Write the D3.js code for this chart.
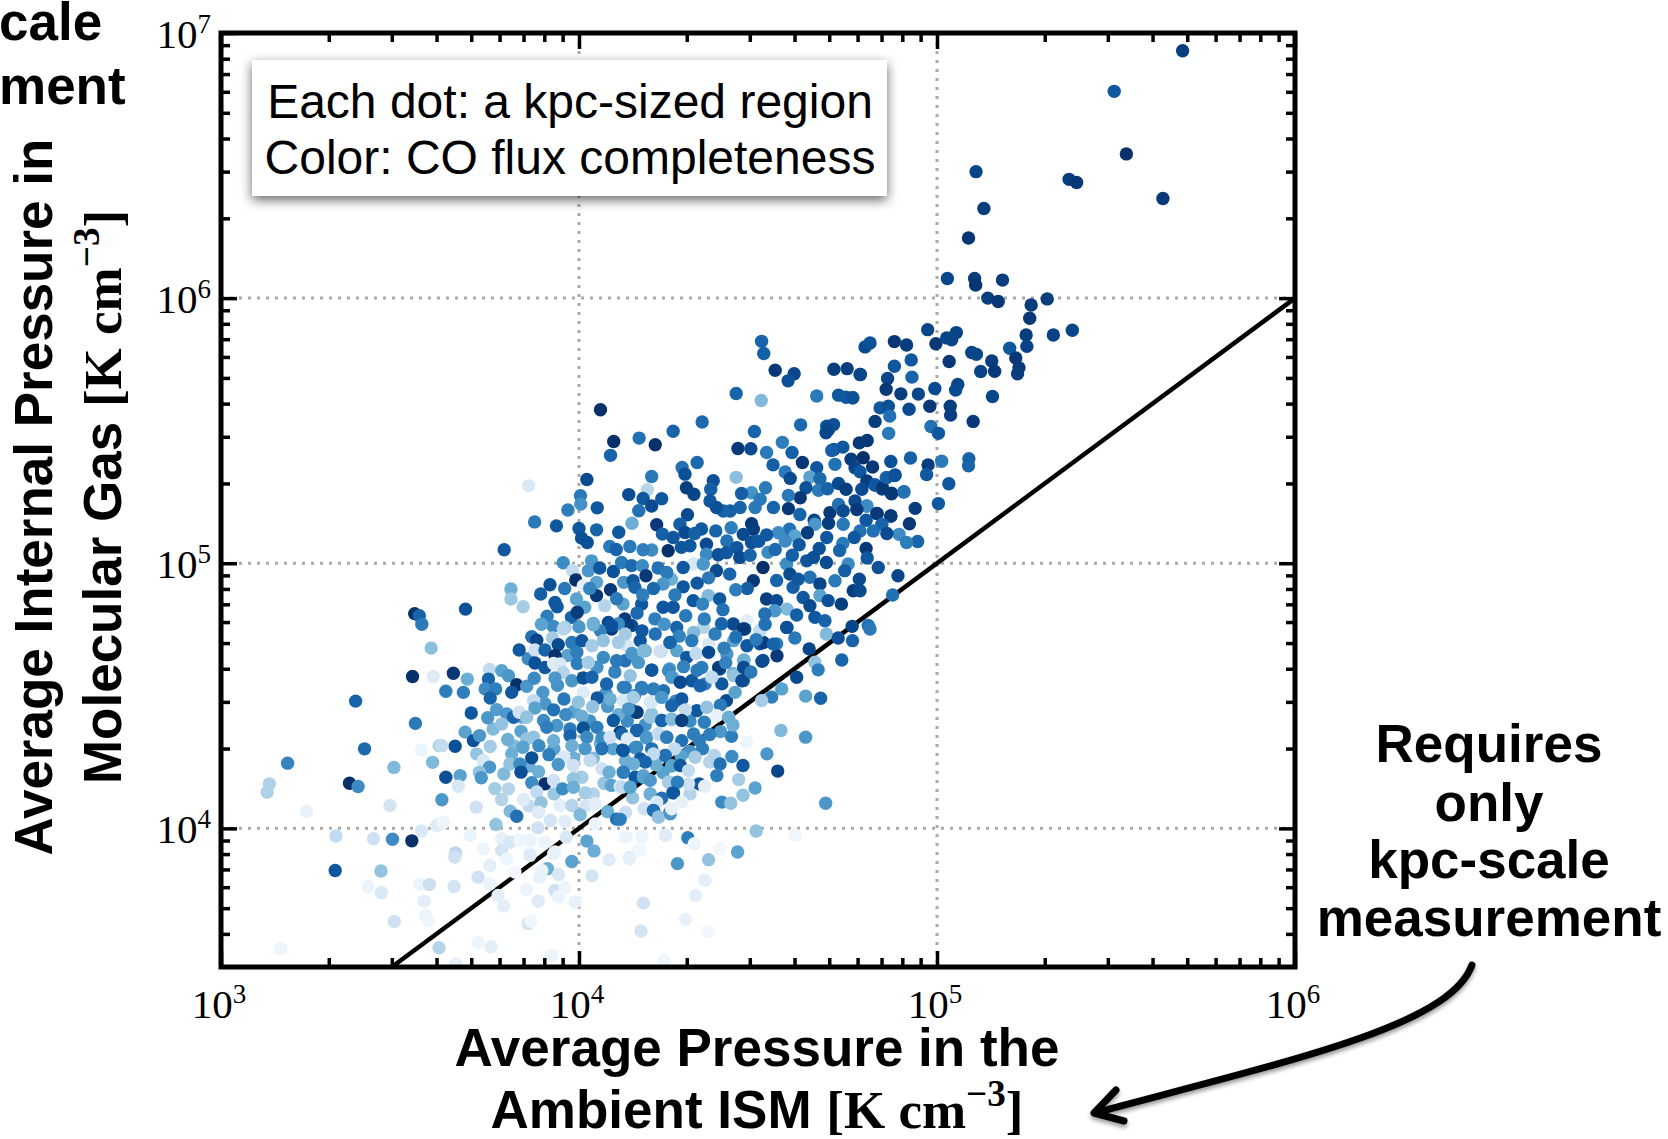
<!DOCTYPE html>
<html>
<head>
<meta charset="utf-8">
<script src="https://cdn.jsdelivr.net/npm/d3@7"></script>
<style>
    body { margin: 0; background: #fff; }
    svg { display: block; }
    text { fill: #000; }
    .tick-label { font-family: "Liberation Serif", serif; font-size: 41px; }
    .title { font-family: "Liberation Sans", sans-serif; font-weight: bold; font-size: 53px; }
    .unit { font-family: "Liberation Serif", serif; font-weight: bold; }
    .note { font-family: "Liberation Sans", sans-serif; font-size: 48px; }
</style>
</head>
<body>
<svg id="chart" width="1668" height="1139"></svg>
<script>
// Every dot is [log10 ambient pressure, log10 internal pressure, CO flux completeness]
const upperTail = [
    [5.686,6.933,.95],[5.495,6.780,.85],[5.529,6.544,1],[5.369,6.448,.95],[5.390,6.436,.97],[5.631,6.376,.97],
    [5.109,6.477,.92],[5.131,6.338,.95],[5.088,6.227,.98],[5.029,6.074,.92],[5.105,6.074,.95],[5.108,6.049,.98],
    [5.183,6.068,.95],[5.142,6.000,.95],[5.171,5.987,.98],[5.308,5.997,.95],[5.263,5.974,.95],[5.259,5.924,.97],
    [5.249,5.861,.95],[5.251,5.818,.93],[5.325,5.861,.93],[5.378,5.879,.92],[5.203,5.811,.85],[5.220,5.774,.97],
    [5.229,5.737,.97],[5.225,5.715,.95],[5.153,5.763,.95],[5.161,5.724,.97],[5.122,5.723,.92],[5.097,5.795,.92],
    [5.110,5.788,.92],[4.974,5.881,.92],[4.997,5.828,.97],[5.027,5.850,.92],[5.041,5.843,.92],[5.054,5.870,.92],
    [5.034,5.761,.97],[5.058,5.674,.92],[5.052,5.653,.9],[4.994,5.659,.9],[5.155,5.629,.92],[5.101,5.535,.97],
    [5.037,5.592,.95],[5.038,5.559,.95],[4.980,5.592,.97],[4.983,5.516,.75],[5.004,5.490,.85],[4.928,5.767,.85],
    [4.930,5.702,.8],[4.881,5.836,.98],[4.915,5.823,.95],[4.799,5.816,.9],[4.813,5.831,.88],[4.881,5.743,.85],
    [4.785,5.712,.85],[4.862,5.697,.92],[4.858,5.656,.97],[4.899,5.639,.95],[4.948,5.638,.92],[4.922,5.581,.9],
    [4.841,5.586,.85],[4.864,5.592,.88],[4.868,5.555,.75],[4.865,5.490,.72],[4.827,5.535,.95],[4.764,5.624,.85],
    [5.013,5.385,.72],[4.926,5.397,.82],[5.089,5.394,.8],[5.088,5.368,.8],[4.975,5.371,.95],[4.971,5.335,.85],
    [5.033,5.300,.85],[5.004,5.225,.85],[4.939,5.207,.95],[4.871,5.384,.88],[4.882,5.331,.9],[4.858,5.323,.75],
    [4.907,5.269,.75],[4.873,5.264,.95],[4.847,5.280,.9],[4.827,5.295,.85],[4.871,5.178,.95],[4.833,5.187,.97],
    [4.804,5.216,.7]
];

const upperCloud = [
    [4.510,5.837,.8],[4.516,5.791,.82],[4.548,5.728,.97],[4.601,5.715,.92],[4.584,5.688,.88],[4.712,5.732,.95],
    [4.749,5.734,.95],[4.786,5.712,.92],[4.439,5.640,.8],[4.509,5.614,.45],[4.664,5.631,.72],[4.725,5.634,.85],
    [4.746,5.626,.85],[4.765,5.624,.88],[4.619,5.522,.78],[4.490,5.497,.8],[4.568,5.456,.7],[4.595,5.418,.82],
    [4.524,5.418,.72],[4.444,5.433,.97],[4.480,5.432,.9],[4.542,5.371,.82],[4.624,5.380,.98],[4.439,5.324,.42],
    [4.576,5.344,.72],[4.590,5.320,.9],[4.692,5.517,.88],[4.711,5.523,.88],[4.697,5.504,.9],[4.690,5.492,.92],
    [4.712,5.429,.85],[4.737,5.438,.85],[4.706,5.425,.82],[4.715,5.373,.75],[4.664,5.360,.85],[4.645,5.325,.55],
    [4.673,5.319,.78],[4.669,5.275,.72],[4.694,5.281,.8],[4.634,5.285,.88],[4.725,5.301,.9],[4.746,5.279,.95],
    [4.618,5.247,.97],[4.585,5.256,.72],[4.585,5.206,.97],[4.521,5.285,.72],[4.482,5.266,.62],[4.454,5.263,.82],
    [4.506,5.241,.72],[4.492,5.210,.72],[4.422,5.197,.82],[4.403,5.197,.8],[4.450,5.210,.8],[4.543,5.210,.8],
    [4.617,5.184,.8],[4.482,5.149,.97],[4.487,5.128,.95],[4.425,5.134,.7],[4.701,5.191,.97],[4.657,5.162,.92],
    [4.659,5.147,.6],[4.697,5.151,.95],[4.738,5.147,.72],[4.725,5.222,.75],[4.771,5.235,.9],[4.804,5.216,.65],
    [4.776,5.203,.97],[4.738,5.197,.9],[4.832,5.188,.97],[4.871,5.178,.97],[4.923,5.149,.97],[4.846,5.147,.8],
    [4.802,5.162,.85],[4.894,5.109,.65],[4.946,5.082,.8],[4.915,5.078,.7],[4.860,5.112,.9],[4.822,5.122,.75],
    [4.785,5.122,.75],[4.769,5.097,.85],[4.737,5.075,.72],[4.802,5.056,.97],[4.692,5.097,.85],[4.638,5.115,.95],
    [4.588,5.128,.75],[4.603,5.103,.55],[4.557,5.115,.65],[4.576,5.084,.65],[4.524,5.107,.85],[4.459,5.109,.9],
    [4.482,5.078,.88],[4.413,5.084,.75],[4.441,5.059,.85],[4.671,5.056,.88],[4.783,5.454,.97],[4.805,5.463,.97],
    [4.760,5.392,.95],[4.794,5.398,1],[4.771,5.360,.92],[4.820,5.363,.97],[4.785,5.345,.85],[4.804,5.310,.95],
    [4.827,5.295,.85],[4.790,5.279,.9],[4.848,5.285,.97],[4.873,5.262,.97],[4.908,5.270,.75],[4.860,5.323,.82],
    [4.883,5.333,.88],
    [4.060,5.579,1],[4.168,5.472,.75],[4.097,5.459,1],[4.213,5.447,1],[4.088,5.407,.8],[4.263,5.498,.8],
    [4.344,5.533,.78],[4.022,5.316,.9],[4.203,5.327,.72],[4.191,5.277,.3],[4.139,5.259,.9],[4.179,5.244,.85],
    [4.203,5.216,.9],[4.231,5.243,.85],[4.167,5.198,.75],[4.051,5.209,.85],[4.004,5.255,.72],[4.005,5.223,.62],
    [3.969,5.201,.7],[3.876,5.156,.72],[3.937,5.141,.85],[3.859,5.292,.15],[4.148,5.151,.5],[4.217,5.145,.97],
    [4.000,5.131,.85],[4.049,5.126,.8],[4.111,5.117,.85],[4.007,5.095,.88],[4.023,5.078,.88],[4.086,5.063,.72],
    [3.791,5.051,.85],[4.288,5.361,.75],[4.330,5.380,.78],[4.296,5.336,.88],[4.300,5.285,.95],[4.321,5.260,.92],
    [4.375,5.311,.88],[4.368,5.279,.82],[4.366,5.235,.85],[4.384,5.210,.88],[4.303,5.183,.9],[4.282,5.147,.82],
    [4.342,5.129,.85],[4.382,5.122,.8],[4.233,5.110,.82],[4.263,5.097,.85],[4.296,5.116,.9],[4.310,5.066,.85],
    [4.356,5.072,.9],[4.249,5.047,1],[4.203,5.050,.65],[4.179,5.051,.7],[4.286,5.060,.85],[4.356,5.034,.65]
];

const midCloud = [
    [3.956,5.002,.65],[3.982,4.972,.25],[4.035,5.009,.6],[4.026,4.972,.6],[4.058,4.982,.85],[4.096,4.969,.88],
    [4.119,5.003,.72],[4.147,4.991,.78],[4.177,4.991,.65],[4.221,4.982,.75],[4.319,4.997,.15],[4.347,4.997,.6],
    [4.389,5.032,.88],[4.291,4.984,.85],[4.384,4.972,.9],[3.991,4.937,1],[4.049,4.928,.55],[4.012,4.915,.1],
    [4.049,4.878,.97],[4.088,4.900,.97],[4.125,4.928,.6],[4.151,4.934,.85],[4.187,4.953,.97],[4.156,4.909,.8],
    [4.258,4.940,.5],[4.245,4.965,.72],[4.235,4.922,.6],[4.291,4.911,.85],[3.810,4.903,.5],[3.810,4.865,.38],
    [3.844,4.836,.35],[3.893,4.884,.82],[3.919,4.919,.88],[3.933,4.852,.85],[3.939,4.836,.85],[3.911,4.800,.7],
    [3.993,4.865,.55],[4.016,4.834,.55],[3.979,4.796,.8],[3.995,4.815,.95],[4.040,4.773,.55],[3.961,4.758,.35],
    [4.072,4.840,.3],[4.123,4.846,.55],[4.082,4.777,.9],[4.091,4.752,.95],[4.128,4.790,.97],[4.147,4.765,.9],
    [4.175,4.846,.85],[4.235,4.834,.85],[4.263,4.834,.85],[4.319,4.859,.85],[4.361,4.878,.45],[4.393,4.865,.85],
    [4.514,4.984,1],[4.487,4.934,.97],[4.421,4.959,.8],[4.449,5.022,.9],[4.528,5.041,.65],[4.580,4.997,.65],
    [4.636,5.009,.85],[4.691,5.003,.9],[4.752,4.997,.65],[4.836,4.984,.88],[4.589,4.959,.9],[4.645,4.947,.75],
    [4.673,4.922,.92],[4.715,4.934,.72],[4.783,4.940,.9],[4.766,4.896,.95],[4.785,4.896,.9],[4.891,4.953,.92],
    [4.876,4.880,.75],[4.598,4.909,.82],[4.626,4.871,.85],[4.673,4.878,.55],[4.696,4.859,.88],[4.733,4.846,.95],
    [4.645,4.840,.9],[4.524,4.865,.95],[4.552,4.859,.9],[4.581,4.827,.45],[4.547,4.821,.6],[4.519,4.809,.75],
    [4.468,4.783,.1],[4.431,4.771,.9],[4.463,4.752,.85],[4.505,4.746,.2],[4.580,4.758,.8],[4.603,4.718,.72],
    [4.659,4.796,.85],[4.687,4.783,.8],[4.691,4.733,.45],[4.763,4.762,.92],[4.808,4.765,.75],[4.813,4.752,.72],
    [4.724,4.718,.88],[4.764,4.708,.8],[4.643,4.677,.92],[4.734,4.635,.8],[4.659,4.627,.4],[4.668,4.598,.7],
    [4.608,4.570,.9],[4.633,4.499,.55],[4.675,4.491,.8],[4.566,4.526,.55],[4.538,4.495,.7],[4.510,4.482,.35],
    [4.564,4.369,.45],[4.633,4.344,.6],[4.426,4.347,.7],[4.505,4.696,.85],[4.552,4.696,.72],[4.514,4.633,.85],
    [4.460,4.633,.5],[4.431,4.583,.5],[4.393,4.601,.9],[4.459,4.558,.85],[4.412,4.482,.9],
    [4.134,4.764,.95],[4.176,4.745,.85],[4.213,4.733,.75],[4.255,4.701,.85],[4.185,4.670,.5],[4.229,4.668,.3],
    [4.273,4.670,.55],[4.301,4.645,.85],[4.362,4.695,.15],[4.327,4.660,.25],[4.362,4.664,.9],[4.413,4.658,.6],
    [4.461,4.635,.5],[4.511,4.630,.9],[4.553,4.651,.97],[4.515,4.701,.95],[4.506,4.745,.25],[4.459,4.752,.97],
    [4.432,4.708,.55],[4.469,4.689,.85],[4.543,4.695,.8],[4.380,4.733,.7],[4.348,4.758,.3],[4.320,4.739,.45],
    [4.273,4.758,.8],[4.134,4.689,.15],[4.129,4.632,.75],[4.166,4.626,.6],[4.203,4.597,.85],[4.253,4.601,.6],
    [4.343,4.607,.7],[4.390,4.607,.95],[4.432,4.576,.4],[4.460,4.607,.9],[4.399,4.545,.85],[4.455,4.557,.9],
    [4.143,4.576,.4],[4.264,4.570,.3],[4.352,4.545,.7],[4.436,4.513,.55],[4.371,4.570,.25],[4.315,4.557,.85],
    [4.581,4.758,.88]
];

// Dots half hidden in the crowded part of the cloud, estimated
const crowdedCloud = [
    [4.104,5.052,.8],[4.142,5.063,.72],[4.323,5.112,.82],[4.412,5.040,.85],[4.478,5.030,.8],[4.502,5.083,.85],
    [4.548,5.052,.78],[4.596,5.030,.82],[4.615,5.070,.85],[4.655,5.022,.88],[4.728,5.048,.8],[4.805,5.020,.85],
    [4.742,4.972,.82],[4.612,4.940,.85],[4.552,4.935,.8],[4.470,4.905,.82],[4.438,4.900,.7],[4.362,4.945,.72],
    [4.330,4.925,.85],[4.208,4.905,.78],[4.178,4.880,.7],[4.105,4.866,.72],[4.030,4.905,.68],[3.960,4.905,.72],
    [4.268,4.880,.72],[4.345,4.846,.68],[4.402,4.825,.75],[4.298,4.802,.72],[4.212,4.790,.7],[4.162,4.812,.78],
    [4.350,4.790,.7],[4.398,4.772,.8],[4.520,4.770,.75],[4.608,4.805,.82],[4.495,4.712,.72],[4.438,4.722,.75],
    [4.315,4.708,.72],[4.280,4.725,.68],[4.238,4.770,.62],[4.110,4.772,.65],[4.060,4.745,.68],[4.000,4.760,.6],
    [3.928,4.762,.65],[3.895,4.770,.55],[3.858,4.640,.65],[3.968,4.652,.55],[3.995,4.622,.7],[4.050,4.608,.62],
    [4.100,4.590,.68],[4.148,4.660,.6],[4.292,4.610,.68],[4.330,4.596,.72],[4.405,4.680,.7],[4.480,4.590,.72],
    [4.410,4.625,.68],[4.155,4.500,.65],[4.075,4.510,.6],[3.940,4.540,.62],[3.905,4.470,.6],[3.985,4.440,.55],
    [4.030,4.405,.62],[4.080,4.460,.6],[4.135,4.405,.65],[4.185,4.390,.62],[4.270,4.480,.68],[4.310,4.405,.65],
    [4.350,4.400,.7],[4.395,4.465,.72],[4.395,4.365,.6],[4.310,4.290,.62],[4.345,4.300,.7],[4.285,4.275,.55],
    [3.840,4.420,.55],[3.770,4.448,.58],[3.760,4.375,.45],[3.820,4.310,.45],[3.930,4.300,.55],[4.040,4.265,.45],
    [4.095,4.300,.55],[4.130,4.255,.5],[4.070,4.170,.4],[3.860,4.235,.5],[3.790,4.205,.45],[3.765,4.150,.35],
    [3.930,4.130,.38],[4.040,4.130,.3],[4.150,4.115,.4],[4.235,4.210,.55],[4.310,4.130,.3],[3.860,4.085,.25],
    [4.020,4.085,.18],[4.130,4.060,.22],[3.920,4.030,.18],[4.060,4.320,.5],[3.985,4.265,.5],[4.215,4.240,.5]
];

const leftWing = [
    [3.541,4.810,1],[3.554,4.802,.8],[3.561,4.770,.72],[3.683,4.827,.88],[3.587,4.680,.42],[3.535,4.573,1],
    [3.593,4.573,.12],[3.376,4.480,.8],[3.543,4.396,.72],[3.401,4.300,.78],[3.609,4.312,.3],[3.560,4.296,.05],
    [3.186,4.246,.68],[3.483,4.230,.45],[3.591,4.249,.45],[3.359,4.170,1],[3.383,4.158,.65],[3.135,4.168,.32],
    [3.129,4.136,.32],[3.239,4.064,.07],[3.472,4.086,.18],[3.321,3.971,.25],[3.426,3.961,.2],[3.479,3.959,.65],
    [3.533,3.953,1],[3.560,3.990,.15],[3.602,4.011,.12],[3.619,4.020,.1],[3.319,3.841,.85],[3.447,3.839,.4],
    [3.411,3.781,.06],[3.448,3.757,.15],[3.555,3.789,.05],[3.582,3.788,.22],[3.651,3.781,.18],[3.655,3.907,.28],
    [3.653,3.892,.2]
];

const coreLeft = [
    [3.649,4.585,.97],[3.688,4.563,.5],[3.628,4.517,.7],[3.677,4.513,.7],[3.833,4.673,.85],[3.868,4.723,.75],
    [3.882,4.710,.92],[3.926,4.718,.35],[3.956,4.752,.3],[3.877,4.673,.2],[3.905,4.673,.8],[3.942,4.693,.9],
    [3.933,4.651,1],[3.877,4.624,.88],[3.905,4.607,.85],[3.929,4.622,.12],[3.947,4.620,.15],[3.956,4.588,.3],
    [3.980,4.701,.72],[4.008,4.708,.85],[3.994,4.664,.7],[4.036,4.689,.35],[4.068,4.708,.4],[4.026,4.626,.35],
    [4.068,4.645,.65],[4.105,4.632,.72],[4.110,4.701,.35],[4.091,4.764,.88],[4.040,4.768,.5],[4.129,4.733,.35],
    [4.171,4.708,.85],[4.180,4.670,.45],[4.226,4.668,.2],[4.254,4.701,.8],[4.203,4.597,.85],[4.250,4.595,.65],
    [3.750,4.599,.25],[3.784,4.595,.55],[3.803,4.576,.6],[3.747,4.563,.8],[3.826,4.542,1],[3.738,4.526,.65],
    [3.767,4.526,.7],[3.812,4.513,.85],[3.752,4.492,.8],[3.854,4.536,.6],[3.875,4.566,.65],[3.933,4.567,.6],
    [3.980,4.557,.6],[3.899,4.513,.6],[3.958,4.488,.72],[4.012,4.567,.88],[4.036,4.570,.8],[4.077,4.545,.8],
    [4.124,4.532,.7],[4.012,4.513,.12],[4.051,4.492,.85],[3.998,4.476,.4],[4.038,4.459,.4],[4.124,4.482,.2],
    [4.087,4.488,.5],[4.175,4.532,.7],[4.231,4.513,.75],[4.199,4.476,.15],[4.259,4.570,.6],[3.873,4.482,.25],
    [3.877,4.454,.55],[3.929,4.447,.75],[3.963,4.429,.65],[3.699,4.435,.85],[3.745,4.417,.6],[3.798,4.432,.6],
    [3.817,4.419,.8],[3.833,4.438,.2],[3.854,4.419,.4],[3.784,4.394,.4],[3.838,4.366,.55],[3.901,4.407,.65],
    [4.008,4.423,.5],[3.938,4.388,.6],[3.910,4.381,.7],[3.975,4.375,.72],[4.012,4.379,.88],[4.050,4.381,.7],
    [4.110,4.429,.5],[4.096,4.407,.85],[4.161,4.438,.9],[4.143,4.450,.7],[4.161,4.369,.85],[4.115,4.363,.95],
    [4.231,4.407,.8],[4.259,4.409,.3],[4.203,4.431,.4],[4.189,4.344,.55],[4.222,4.356,.2],[4.245,4.344,.7],
    [4.138,4.337,.1],[3.682,4.363,.55],[3.705,4.331,.88],[3.722,4.350,.6],[3.654,4.310,.88],[3.617,4.312,.25],
    [3.752,4.309,.35],[3.801,4.335,.5],[3.873,4.344,.4],[3.854,4.337,.4],[3.929,4.331,.5],[3.975,4.350,.8],
    [3.888,4.312,.65],[3.843,4.306,.55],[3.980,4.312,.5],[4.022,4.344,.65],[4.064,4.341,.65],[4.087,4.344,.2],
    [4.064,4.300,.75],[4.017,4.300,.6],[4.122,4.296,.88],[4.161,4.306,.7],[4.171,4.258,.85],[4.240,4.275,.65],
    [4.259,4.237,.6],[4.208,4.287,.25],[3.714,4.281,.4],[3.812,4.281,.5],[3.868,4.266,.88],[3.916,4.278,.7],
    [3.958,4.268,.15],[3.807,4.243,.4],[3.835,4.243,.65],[3.942,4.241,.6],[3.984,4.237,.2],[4.031,4.256,.25],
    [3.733,4.256,.15],[3.750,4.231,.6],[3.628,4.193,.88],[3.668,4.199,.55],[3.722,4.212,.4],[3.727,4.191,.6],
    [3.838,4.212,.88],[3.887,4.214,.5],[3.868,4.172,.65],[3.905,4.168,1],[3.929,4.181,.2],[4.008,4.193,.35],
    [3.984,4.187,.4],[3.954,4.149,.65],[4.064,4.225,.2],[4.084,4.212,.5],[4.124,4.212,.65],[4.157,4.193,.85],
    [4.180,4.199,.55],[4.091,4.162,.55],[4.115,4.158,.15],[4.199,4.130,.4],[4.254,4.174,.35],[4.264,4.134,.85],
    [3.663,4.159,.15],[3.803,4.149,.3],[3.984,4.155,.5],[4.017,4.134,.35],[3.882,4.137,.25],[3.617,4.108,.6],
    [3.713,4.080,.2],[3.784,4.109,.3],[3.845,4.109,.12],[3.894,4.097,.4],[3.947,4.086,.1],[3.980,4.086,.3],
    [4.045,4.093,.1],[4.217,4.099,.1],[4.182,4.074,.2],[3.808,4.065,.45],[3.826,4.046,.75],[3.887,4.061,.12],
    [4.003,4.051,.45],[4.080,4.063,.5],[4.105,4.035,.75],[4.208,4.068,.7],[4.222,4.043,.35],[4.254,4.061,.7],
    [3.768,4.015,.4],[3.961,4.026,.12],[3.621,4.024,.05],[3.885,4.002,.2],[3.964,3.967,.15],[4.045,4.017,.06]
];

const coreRight = [
    [4.283,4.551,.9],[4.338,4.538,.8],[4.236,4.519,.75],[4.208,4.526,.7],[4.176,4.526,.7],[4.129,4.532,.7],
    [4.287,4.488,.85],[4.259,4.463,.8],[4.124,4.482,.15],[4.152,4.494,.35],[4.201,4.476,.15],[4.231,4.494,.6],
    [4.329,4.444,.85],[4.297,4.447,.25],[4.357,4.457,.4],[4.385,4.425,.08],[4.418,4.419,.5],[4.162,4.438,.95],
    [4.138,4.450,.6],[4.199,4.419,.4],[4.231,4.407,.8],[4.259,4.413,.45],[4.287,4.407,.95],[4.162,4.369,.8],
    [4.120,4.356,.8],[4.135,4.337,.12],[4.188,4.341,.6],[4.222,4.356,.25],[4.245,4.344,.7],[4.287,4.331,.75],
    [4.320,4.356,.7],[4.365,4.354,.7],[4.336,4.331,.7],[4.430,4.390,.5],[4.267,4.300,.25],[4.157,4.304,.65],
    [4.124,4.294,.85],[4.203,4.300,.75],[4.241,4.275,.75],[4.208,4.281,.25],[4.171,4.262,.85],[4.185,4.250,.8],
    [4.152,4.243,.5],[4.259,4.235,.55],[4.283,4.237,.85],[4.306,4.218,.25],[4.324,4.268,.35],[4.378,4.275,.3],
    [4.365,4.250,.3],[4.394,4.243,.75],[4.427,4.271,.65],[4.458,4.237,.85],[4.385,4.199,.7],[4.446,4.184,.35],
    [4.492,4.152,.55],[4.525,4.281,.6],[4.555,4.216,.92],[4.469,4.325,.05],[4.336,4.168,.85],[4.351,4.159,.1],
    [4.306,4.168,.2],[4.250,4.174,.35],[4.275,4.174,.7],[4.124,4.212,.7],[4.180,4.193,.55],[4.199,4.181,.6],
    [4.199,4.130,.5],[4.262,4.134,.85],[4.231,4.114,.75],[4.120,4.155,.25],[4.143,4.155,.55],[4.217,4.099,.15],
    [4.287,4.099,.08],[4.399,4.099,.65],[4.424,4.095,.4],[4.458,4.125,.4],[4.689,4.095,.6],[4.182,4.074,.2],
    [4.208,4.068,.75],[4.222,4.043,.4],[4.255,4.055,.6],[4.259,4.074,.08],[4.115,4.034,.7],[4.495,3.990,.4],
    [4.129,3.967,.05],[4.176,3.970,.05],[4.241,3.974,.1],[4.304,3.965,.7],[4.322,3.942,.05],[4.166,3.917,.05],
    [4.394,3.923,.03],[4.443,3.911,.55],[4.141,3.889,.15],[4.362,3.882,.4],[4.275,3.867,.6],[4.604,3.974,.04]
];

const faintFloor = [
    [3.696,3.974,.06],[3.784,3.961,.08],[3.808,3.948,.15],[3.733,3.923,.05],[3.784,3.917,.18],[3.835,3.955,.04],
    [3.863,3.955,.06],[3.905,3.948,.06],[4.022,3.952,.55],[4.042,3.915,.5],[4.131,3.967,.06],[4.175,3.967,.05],
    [4.242,3.974,.12],[3.863,3.904,.05],[3.933,3.911,.04],[3.718,3.816,.2],[3.568,3.725,.1],[3.484,3.649,.2],
    [3.572,3.672,.05],[3.579,3.653,.04],[3.167,3.546,.05],[3.609,3.550,.3],[3.718,3.569,.05],[3.754,3.553,.1],
    [3.656,3.490,.08],[3.751,3.791,.06],[3.774,3.747,.1],[3.790,3.707,.1],[3.751,3.860,.1],[3.852,3.769,.06],
    [3.886,3.725,.12],[3.858,3.641,.18],[3.866,3.651,.04],[3.923,3.521,.05],[3.980,3.875,.55],[3.912,3.848,.5],
    [3.896,3.841,.06],[3.943,3.826,.15],[4.036,3.821,.18],[3.889,3.816,.08],[3.821,3.835,.03],[3.863,3.898,.12],
    [3.929,3.904,.07],[3.798,3.885,.05],[3.933,3.766,.2],[3.961,3.775,.05],[3.942,3.741,.06],[3.989,3.722,.08],
    [4.084,3.882,.12],[4.141,3.885,.08],[4.171,3.917,.04],[4.352,3.804,.1],[4.326,3.747,.1],[4.180,3.718,.2],
    [4.298,3.656,.07],[4.173,3.613,.18],[4.361,3.612,.03],[4.238,3.503,.04]
];

const regions = upperTail.concat(upperCloud, midCloud, crowdedCloud, leftWing, coreLeft, coreRight, faintFloor);

const xDomain = [1e3, 1e6];
const yDomain = [3e3, 1e7];
const xDecades = [1e3, 1e4, 1e5, 1e6];
const yDecades = [1e4, 1e5, 1e6, 1e7];
const minorMultiples = [2, 3, 4, 5, 6, 7, 8, 9];
const oneToOne = [3e3, 1e6];

const plot_left = 221;
const plot_right = 1295;
const plot_top = 33;
const plot_bottom = 967;
const dot_radius = 6.7;

const svg = d3.select("#chart");
const defs = svg.append("defs");

const xScale = d3.scaleLog().domain(xDomain).range([plot_left, plot_right]);
const yScale = d3.scaleLog().domain(yDomain).range([plot_bottom, plot_top]);

defs.append("clipPath").attr("id", "plot-clip")
    .append("rect")
    .attr("x", plot_left).attr("y", plot_top)
    .attr("width", plot_right - plot_left).attr("height", plot_bottom - plot_top);

const boxShadow = defs.append("filter").attr("id", "box-shadow")
    .attr("x", "-10%").attr("y", "-20%").attr("width", "120%").attr("height", "145%");
boxShadow.append("feDropShadow")
    .attr("dx", 0).attr("dy", 4).attr("stdDeviation", 6)
    .attr("flood-color", "#000").attr("flood-opacity", 0.6);

const arrowShadow = defs.append("filter").attr("id", "arrow-shadow")
    .attr("x", "-10%").attr("y", "-20%").attr("width", "120%").attr("height", "140%");
arrowShadow.append("feDropShadow")
    .attr("dx", 0).attr("dy", 3).attr("stdDeviation", 2)
    .attr("flood-color", "#000").attr("flood-opacity", 0.4);

// Add gridlines
const grid = svg.append("g")
    .attr("stroke", "#aaa").attr("stroke-width", 3).attr("stroke-dasharray", "3 6");
grid.selectAll("line.vertical")
    .data(xDecades.slice(1, 3))
    .enter().append("line")
    .attr("x1", d => xScale(d)).attr("x2", d => xScale(d))
    .attr("y1", plot_top).attr("y2", plot_bottom);
grid.selectAll("line.horizontal")
    .data(yDecades.slice(0, 3))
    .enter().append("line")
    .attr("x1", plot_left).attr("x2", plot_right)
    .attr("y1", d => yScale(d)).attr("y2", d => yScale(d));

// y = x line sits below the dots
svg.append("line")
    .attr("x1", xScale(oneToOne[0])).attr("y1", yScale(oneToOne[0]))
    .attr("x2", xScale(oneToOne[1])).attr("y2", yScale(oneToOne[1]))
    .attr("stroke", "#000").attr("stroke-width", 4.5);

svg.append("g").attr("clip-path", "url(#plot-clip)")
    .selectAll("circle")
    .data(regions)
    .enter().append("circle")
    .attr("cx", d => xScale(10 ** d[0]))
    .attr("cy", d => yScale(10 ** d[1]))
    .attr("r", dot_radius)
    .attr("fill", d => d3.interpolateBlues(d[2]));

// Log ticks on all four sides, pointing in
function minorTicks(scale) {
    const [lo, hi] = scale.domain();
    const ticks = [];
    for (let e = Math.floor(Math.log10(lo)); e < Math.ceil(Math.log10(hi)); e++) {
        minorMultiples.forEach(m => {
            const v = m * 10 ** e;
            if (v > lo && v < hi) ticks.push(v);
        });
    }
    return ticks;
}

function drawTicks(axis, transform, values, size) {
    const g = svg.append("g")
        .attr("transform", transform)
        .call(axis.tickValues(values).tickSize(-size).tickSizeOuter(0).tickFormat(""));
    g.select(".domain").remove();
    g.selectAll("line").attr("stroke", "#000").attr("stroke-width", 3.5);
}

[[16, xDecades, yDecades], [9, minorTicks(xScale), minorTicks(yScale)]].forEach(([size, xs, ys]) => {
    drawTicks(d3.axisBottom(xScale), `translate(0,${plot_bottom})`, xs, size);
    drawTicks(d3.axisTop(xScale), `translate(0,${plot_top})`, xs, size);
    drawTicks(d3.axisLeft(yScale), `translate(${plot_left},0)`, ys, size);
    drawTicks(d3.axisRight(yScale), `translate(${plot_right},0)`, ys, size);
});

svg.append("rect")
    .attr("x", plot_left).attr("y", plot_top)
    .attr("width", plot_right - plot_left).attr("height", plot_bottom - plot_top)
    .attr("fill", "none").attr("stroke", "#000").attr("stroke-width", 5);

// Tick labels: 10 with a raised exponent
function powerLabel(sel, v) {
    sel.attr("class", "tick-label");
    sel.append("tspan").text("10");
    sel.append("tspan")
        .attr("font-size", 27).attr("dy", -15)
        .text(Math.round(Math.log10(v)));
}

svg.selectAll("text.xtick")
    .data(xDecades)
    .enter().append("text")
    .attr("x", d => xScale(d) - 2)
    .attr("y", 1018)
    .attr("text-anchor", "middle")
    .each(function(d) { powerLabel(d3.select(this), d); });

svg.selectAll("text.ytick")
    .data(yDecades)
    .enter().append("text")
    .attr("x", 211)
    .attr("y", d => yScale(d) + 15)
    .attr("text-anchor", "end")
    .each(function(d) { powerLabel(d3.select(this), d); });

// Note box
svg.append("rect")
    .attr("x", 252).attr("y", 60)
    .attr("width", 635).attr("height", 136)
    .attr("fill", "#fff")
    .attr("filter", "url(#box-shadow)");
svg.append("text").attr("class", "note")
    .attr("x", 570).attr("y", 118).attr("text-anchor", "middle")
    .text("Each dot: a kpc-sized region");
svg.append("text").attr("class", "note")
    .attr("x", 570).attr("y", 174).attr("text-anchor", "middle")
    .text("Color: CO flux completeness");

// Axis titles
function unitLabel(sel, size) {
    sel.append("tspan").attr("class", "unit").attr("font-size", size).text("[K cm");
    sel.append("tspan").attr("class", "unit").attr("font-size", size * 0.7).attr("dy", -size * 0.42).text("\u22123");
    sel.append("tspan").attr("class", "unit").attr("font-size", size).attr("dy", size * 0.42).text("]");
}

svg.append("text").attr("class", "title")
    .attr("x", 757).attr("y", 1066).attr("text-anchor", "middle")
    .text("Average Pressure in the");
const xTitle = svg.append("text").attr("class", "title")
    .attr("x", 757).attr("y", 1128).attr("text-anchor", "middle");
xTitle.append("tspan").text("Ambient ISM ");
unitLabel(xTitle, 53);

svg.append("text").attr("class", "title")
    .attr("transform", "translate(52,497) rotate(-90)")
    .attr("text-anchor", "middle")
    .text("Average Internal Pressure in");
const yTitle = svg.append("text").attr("class", "title")
    .attr("transform", "translate(121,497) rotate(-90)")
    .attr("text-anchor", "middle");
yTitle.append("tspan").text("Molecular Gas ");
unitLabel(yTitle, 53);

// Leftovers of the neighbouring panel, cut by the page edge
svg.append("text").attr("class", "title").attr("x", -1).attr("y", 40).text("cale");
svg.append("text").attr("class", "title").attr("x", -1).attr("y", 104).text("ment");

// Annotation on the right
const noteLines = ["Requires", "only", "kpc-scale", "measurement"];
const noteBaselines = [762, 821, 878, 936];
svg.selectAll("text.side")
    .data(noteLines)
    .enter().append("text")
    .attr("class", "title")
    .attr("x", 1489)
    .attr("y", (d, i) => noteBaselines[i])
    .attr("text-anchor", "middle")
    .text(d => d);

const arrow = svg.append("g").attr("filter", "url(#arrow-shadow)")
    .attr("fill", "none").attr("stroke", "#000").attr("stroke-linecap", "round");
const shaft = d3.path();
shaft.moveTo(1472, 965);
shaft.bezierCurveTo(1450, 1025, 1300, 1058, 1098, 1112);
arrow.append("path").attr("d", shaft.toString()).attr("stroke-width", 7);
const head = d3.path();
head.moveTo(1116, 1090);
head.lineTo(1094, 1113);
head.lineTo(1124, 1121);
arrow.append("path").attr("d", head.toString()).attr("stroke-width", 7).attr("stroke-linejoin", "round");
</script>
</body>
</html>
